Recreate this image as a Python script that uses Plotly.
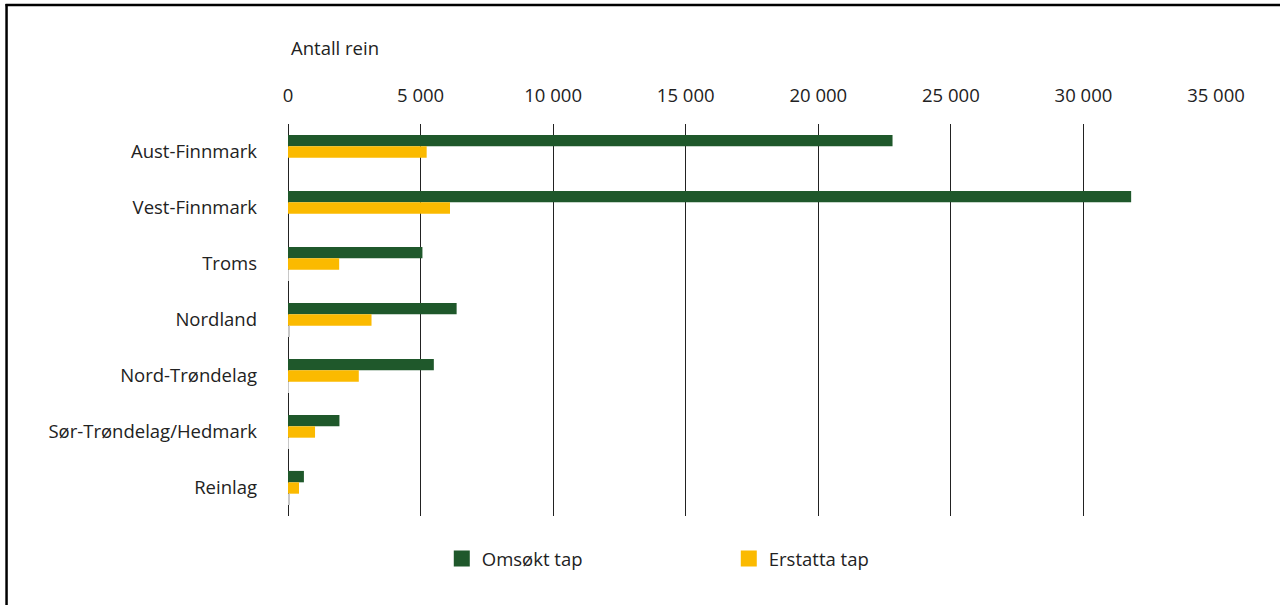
import plotly.graph_objects as go

categories = ["Aust-Finnmark", "Vest-Finnmark", "Troms", "Nordland",
              "Nord-Trøndelag", "Sør-Trøndelag/Hedmark", "Reinlag"]
omsokt_tap = [22800, 31800, 5070, 6360, 5500, 1940, 600]
erstatta_tap = [5230, 6110, 1930, 3150, 2670, 1020, 415]
other_series = [0, 0, 30, 60, 30, 30, 40]
tick_vals = [0, 5000, 10000, 15000, 20000, 25000, 30000, 35000]
tick_text = ["0", "5 000", "10 000", "15 000", "20 000", "25 000", "30 000", "35 000"]

GREEN = "#1f582b"
YELLOW = "#fbba00"
TXT = "#222222"
FONT = "Open Sans"
FS = 18.5

W, H = 1280, 605
PL, PR, PT, PB = 288.3, 1215.8, 124, 516  # plot area in pixels
L, R, T, B = PL, W - PR, PT, H - PB

fig = go.Figure()
fig.add_trace(go.Bar(y=categories, x=omsokt_tap, orientation="h", name="Omsøkt tap",
                     showlegend=False, marker=dict(color=GREEN, line=dict(width=0))))
fig.add_trace(go.Bar(y=categories, x=erstatta_tap, orientation="h", name="Erstatta tap",
                     showlegend=False, marker=dict(color=YELLOW, line=dict(width=0))))
fig.add_trace(go.Bar(y=categories, x=other_series, orientation="h", name="",
                     showlegend=False, marker=dict(color="#c8c8c8", line=dict(width=0))))
# legend entries (square swatches)
for nm, col in [("Omsøkt tap", GREEN), ("Erstatta tap", YELLOW)]:
    fig.add_trace(go.Scatter(x=[None], y=[None], mode="markers", name=nm,
                             marker=dict(symbol="square", size=16, color=col, line=dict(width=0)),
                             showlegend=True))

def px_x(p):
    return (p - PL) / (PR - PL)

def px_y(p):
    return (PB - p) / (PB - PT)

fig.update_layout(
    width=W, height=H,
    margin=dict(l=L, r=R, t=T, b=B, pad=0, autoexpand=False),
    paper_bgcolor="white", plot_bgcolor="white",
    font=dict(family=FONT, size=FS, color=TXT),
    barmode="group", bargap=0.39, bargroupgap=0,
    showlegend=True,
    legend=dict(orientation="h", x=px_x(442), xanchor="left", y=px_y(559), yanchor="middle",
                entrywidth=242, entrywidthmode="pixels", itemsizing="trace",
                font=dict(family=FONT, size=FS, color=TXT), bgcolor="rgba(0,0,0,0)",
                traceorder="normal"),
    xaxis=dict(side="top", range=[0, 35000], tickvals=tick_vals, ticktext=tick_text,
               showgrid=True, gridcolor="#222222", gridwidth=1,
               zeroline=True, zerolinecolor="#222222", zerolinewidth=1,
               showline=False, ticks="", ticklabelstandoff=17,
               tickfont=dict(family=FONT, size=FS, color=TXT), fixedrange=True),
    yaxis=dict(autorange="reversed", showgrid=False, zeroline=False, showline=False,
               ticks="", ticklabelstandoff=30,
               tickfont=dict(family=FONT, size=FS, color=TXT), fixedrange=True),
    annotations=[dict(text="Antall rein", xref="paper", yref="paper", x=px_x(289), y=px_y(47),
                      xanchor="left", yanchor="middle", showarrow=False,
                      font=dict(family=FONT, size=FS, color=TXT))],
    shapes=[
        dict(type="line", xref="paper", yref="paper", x0=px_x(7), x1=px_x(7),
             y0=px_y(4), y1=px_y(620), line=dict(color="black", width=2.5)),
        dict(type="line", xref="paper", yref="paper", x0=px_x(6), x1=px_x(1295),
             y0=px_y(5), y1=px_y(5), line=dict(color="black", width=2.5)),
    ],
)

fig.write_html("out.html", config={"displayModeBar": False},
               post_script="document.body.style.margin='0';document.body.style.overflow='hidden';")
